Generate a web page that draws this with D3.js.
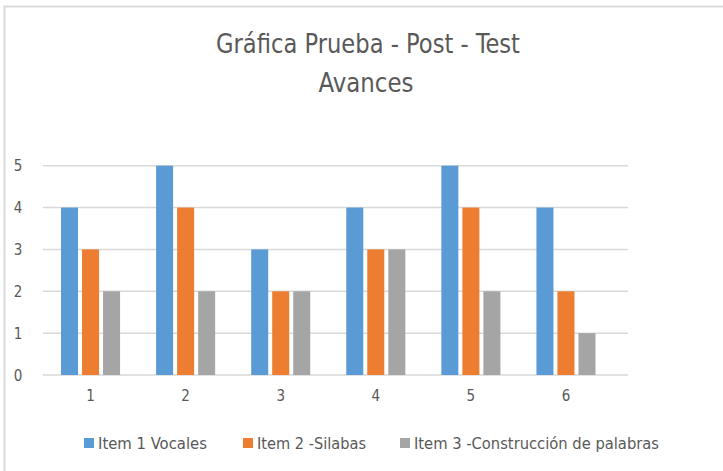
<!DOCTYPE html>
<html>
<head>
<meta charset="utf-8">
<script src="https://cdn.jsdelivr.net/npm/d3@7"></script>
<style>
  body { margin: 0; background: #fff; }
  text { font-family: "Liberation Sans Narrow", "DejaVu Sans Condensed", "Open Sans", sans-serif; fill: #595959; }
</style>
</head>
<body>
<div id="chart"></div>
<script>
// datos de la gráfica
var categories = ["1", "2", "3", "4", "5", "6"];
var seriesNames = ["Item 1 Vocales", "Item 2 -Silabas", "Item 3 -Construcción de palabras"];
var item1 = [4, 5, 3, 4, 5, 4];
var item2 = [3, 4, 2, 3, 4, 2];
var item3 = [2, 2, 2, 3, 2, 1];
var yTicks = [0, 1, 2, 3, 4, 5];
var colors = ["#5B9BD5", "#ED7D31", "#A5A5A5"];

var svgWidth = 723;
var svgHeight = 471;

var svg = d3.select("#chart")
    .append("svg")
    .attr("width", svgWidth)
    .attr("height", svgHeight);

// marco
svg.append("path")
    .attr("d", "M4.5,471 L4.5,6.5 L723,6.5")
    .attr("fill", "none")
    .attr("stroke", "#D9D9D9")
    .attr("stroke-width", 2);

var values = [item1, item2, item3];
var table = categories.map((c, i) => ({
    cat: c,
    vals: seriesNames.map((s, j) => ({ key: s, idx: j, value: values[j][i] }))
}));

var x0 = d3.scaleBand()
    .domain(categories)
    .range([43, 613.5])
    .paddingInner(36 / 95)
    .paddingOuter(18 / 95);

var x1 = d3.scaleBand()
    .domain(seriesNames)
    .range([0, x0.bandwidth()])
    .paddingInner(4 / 21);

var y = d3.scaleLinear()
    .domain([0, 5])
    .range([375, 165.7]);

// gridlines
svg.append("g")
    .selectAll("line")
    .data(yTicks)
    .enter()
    .append("line")
    .attr("x1", 43)
    .attr("x2", 628)
    .attr("y1", d => y(d))
    .attr("y2", d => y(d))
    .attr("stroke", "#D9D9D9")
    .attr("stroke-width", 1.5);

// barras
var groups = svg.append("g")
    .selectAll("g")
    .data(table)
    .enter()
    .append("g")
    .attr("transform", d => `translate(${x0(d.cat)},0)`);

groups.selectAll("rect")
    .data(d => d.vals)
    .enter()
    .append("rect")
    .attr("x", d => x1(d.key))
    .attr("width", x1.bandwidth())
    .attr("y", d => y(d.value))
    .attr("height", d => y(0) - y(d.value))
    .attr("fill", d => colors[d.idx]);

// eje y
var yAxis = d3.axisLeft(y).tickValues(yTicks).tickFormat(d3.format("d")).tickSize(0).tickPadding(0);
var gy = svg.append("g")
    .attr("transform", "translate(18,0)")
    .call(yAxis);
gy.select(".domain").remove();
gy.selectAll("text")
    .attr("font-size", "15px")
    .attr("fill", "#595959")
    .attr("text-anchor", "middle")
    .attr("dy", "0.35em");

// eje x
var xAxis = d3.axisBottom(x0).tickSize(0).tickPadding(0);
var gx = svg.append("g")
    .attr("transform", "translate(0,390)")
    .call(xAxis);
gx.select(".domain").remove();
gx.selectAll("text")
    .attr("font-size", "15px")
    .attr("fill", "#595959")
    .attr("dy", "0.71em");

// título
svg.append("text")
    .attr("x", 368)
    .attr("y", 53)
    .attr("text-anchor", "middle")
    .attr("font-size", "27px")
    .attr("textLength", 304)
    .attr("lengthAdjust", "spacingAndGlyphs")
    .text("Gráfica Prueba - Post - Test");

svg.append("text")
    .attr("x", 366)
    .attr("y", 92)
    .attr("text-anchor", "middle")
    .attr("font-size", "27px")
    .attr("textLength", 95)
    .attr("lengthAdjust", "spacingAndGlyphs")
    .text("Avances");

// leyenda
var legendX = [84, 243, 400];
var legendW = [109, 109, 245];
var legend = svg.append("g")
    .selectAll("g")
    .data(seriesNames)
    .enter()
    .append("g")
    .attr("transform", (d, i) => `translate(${legendX[i]},0)`);

legend.append("rect")
    .attr("x", 0)
    .attr("y", 438)
    .attr("width", 10)
    .attr("height", 10)
    .attr("fill", (d, i) => colors[i]);

legend.append("text")
    .attr("x", 14)
    .attr("y", 449)
    .attr("font-size", "16px")
    .attr("textLength", (d, i) => legendW[i])
    .attr("lengthAdjust", "spacingAndGlyphs")
    .text(d => d);
</script>
</body>
</html>
